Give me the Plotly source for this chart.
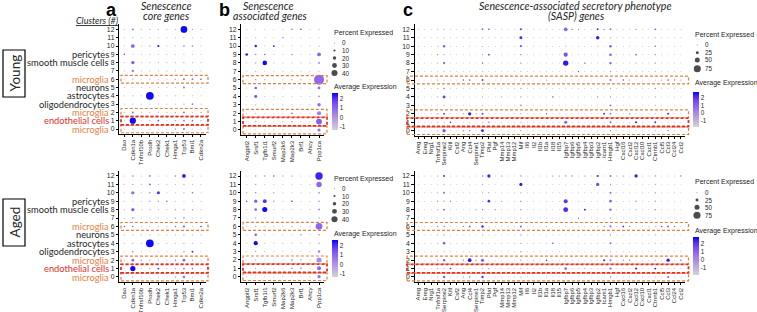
import plotly.graph_objects as go

W, H = 757, 312

# ---------------- data ----------------
GENES_A = ["Dao", "Cdkn1a", "Tnfrsf10b", "Prodh", "Chek2", "Chek1", "Hmga1", "Trp53", "Bmi1", "Cdkn2a"]
GENES_B = ["Angptl2", "Srsf1", "Tgfb1i1", "Smurf2", "Map2k6", "Map2k3", "Brf1", "Ahcy", "Ppp1ca"]
GENES_C = ["Areg", "Ereg", "Nrg1", "Tnfrsf1a", "Serpine2", "Kitl", "Csf2", "Ang", "Ccl4", "Serpine1",
           "Timp2", "Plat", "Pgf", "Mmp14", "Mmp13", "Mmp12", "Mif", "Il6", "Il2", "Il1b",
           "Il1a", "Il18", "Il15", "Igfbp7", "Igfbp6", "Igfbp5", "Igfbp4", "Igfbp3", "Igfbp2", "Icam1",
           "Hmgb1", "Hgf", "Cxcl16", "Cxcl2", "Cxcl12", "Cxcl10", "Cxcl1", "Ctnnb1", "Ccl5", "Ccl3",
           "Ccl24", "Ccl2"]

# rows listed from cluster 12 (top) down to cluster 0 (bottom)
CLUSTERS_TOP_DOWN = list(range(12, -1, -1))

CELL_TYPES = {9: "pericytes", 8: "smooth muscle cells", 6: "microglia", 5: "neurons",
              4: "astrocytes", 3: "oligodendrocytes", 2: "microglia", 1: "endothelial cells", 0: "microglia"}

# ---- panel a : senescence core genes ----
PCT_A_YOUNG = [
    [1, 6, 1, 2, 2, 1, 2, 38, 2, 1],
    [1, 2, 1, 1, 1, 1, 1, 2, 1, 1],
    [1, 18, 1, 2, 8, 1, 1, 4, 4, 1],
    [3, 1, 1, 1, 1, 1, 1, 1, 1, 1],
    [1, 16, 1, 1, 1, 1, 1, 2, 1, 1],
    [1, 8, 1, 1, 1, 1, 1, 1, 1, 1],
    [1, 2, 1, 2, 1, 1, 2, 6, 5, 4],
    [1, 1, 1, 1, 1, 1, 1, 5, 1, 1],
    [1, 2, 1, 45, 1, 1, 1, 1, 1, 1],
    [1, 1, 1, 1, 1, 1, 1, 2, 5, 1],
    [1, 6, 1, 1, 1, 1, 2, 6, 1, 2],
    [1, 35, 1, 2, 5, 1, 2, 5, 5, 2],
    [1, 2, 1, 1, 1, 1, 2, 7, 1, 1],
]
EXPR_A_YOUNG = [
    [-.5, .8, -.5, -.3, -.3, -.5, -.3, 2.5, .3, -.5],
    [-.5, -.3, -.5, -.5, -.5, -.5, -.5, -.3, -.5, -.5],
    [-.5, 1.2, -.5, 0, 2.3, -.5, -.3, .8, .8, -.5],
    [2.0, -.5, -.5, -.5, -.5, -.5, -.5, -.5, -.5, -.5],
    [-.5, 1.2, -.5, -.5, -.5, -.5, -.5, 0, -.5, -.5],
    [-.5, 1.0, -.5, -.5, -.5, -.5, -.5, -.5, -.5, -.5],
    [-.5, 0, -.5, 0, -.5, -.5, .3, 1.0, 1.0, 1.8],
    [-.5, -.5, -.5, -.5, -.5, -.5, -.5, 1.0, -.5, -.5],
    [-.5, 0, -.5, 2.5, -.5, -.5, -.5, -.5, -.5, -.5],
    [-.5, -.5, -.5, -.5, -.5, -.5, -.5, .3, 1.0, -.5],
    [-.5, 1.0, -.5, -.5, -.5, -.5, .3, 1.0, -.5, .3],
    [-.5, 2.5, -.5, 0, 1.5, -.5, .3, 1.0, 1.2, 0],
    [-.5, 0, -.5, -.5, -.5, -.5, .3, 1.0, -.5, -.5],
]
PCT_A_AGED = [
    [1, 4, 1, 5, 1, 1, 4, 18, 1, 1],
    [1, 2, 1, 6, 1, 1, 1, 2, 1, 1],
    [1, 15, 1, 3, 14, 1, 1, 2, 4, 1],
    [1, 1, 1, 2, 2, 3, 1, 1, 1, 1],
    [1, 15, 1, 2, 1, 1, 2, 2, 2, 1],
    [1, 4, 1, 1, 1, 1, 2, 4, 1, 1],
    [3, 4, 1, 1, 1, 1, 3, 8, 1, 4],
    [1, 1, 1, 1, 1, 1, 1, 2, 1, 1],
    [1, 2, 1, 45, 1, 1, 1, 2, 1, 1],
    [1, 4, 1, 1, 1, 1, 1, 3, 6, 1],
    [1, 12, 3, 2, 1, 1, 3, 12, 2, 1],
    [1, 28, 1, 2, 6, 1, 2, 5, 4, 1],
    [1, 2, 1, 1, 1, 1, 2, 9, 1, 1],
]
EXPR_A_AGED = [
    [-.5, .8, -.5, .8, -.5, -.5, .8, 2.3, -.5, -.5],
    [-.5, .3, -.5, 1.0, -.5, -.5, -.5, 0, -.5, -.5],
    [-.5, 1.0, -.5, .8, 2.0, -.5, -.5, .3, 1.0, -.5],
    [-.5, -.5, -.5, .5, .5, 1.5, -.5, -.5, -.5, -.5],
    [-.5, 1.2, -.5, 0, -.5, -.5, .5, .5, .5, -.5],
    [-.5, .8, -.5, -.5, -.5, -.5, .5, 1.0, -.5, -.5],
    [1.5, .8, -.5, -.5, -.5, -.5, 1.0, 1.2, -.5, 2.0],
    [-.5, -.5, -.5, -.5, -.5, -.5, -.5, 0, -.5, -.5],
    [-.5, 0, -.5, 2.5, -.5, -.5, -.5, 0, -.5, -.5],
    [-.5, .8, -.5, -.5, -.5, -.5, -.5, .5, 2.0, -.5],
    [-.5, 1.0, .8, .3, -.5, -.5, 1.0, 1.0, .3, -.5],
    [-.5, 2.5, -.5, .3, 2.0, -.5, .3, 1.0, 1.0, -.5],
    [-.5, 0, -.5, -.5, -.5, -.5, .3, 1.0, -.5, -.5],
]

# ---- panel b : senescence associated genes ----
PCT_B_YOUNG = [
    [1, 1, 1, 1, 1, 4, 4, 1, 2],
    [1, 2, 1, 1, 3, 1, 1, 1, 1],
    [1, 12, 1, 8, 1, 1, 1, 1, 2],
    [14, 4, 5, 1, 1, 3, 1, 1, 22],
    [1, 3, 28, 1, 1, 1, 1, 1, 8],
    [1, 2, 1, 1, 1, 1, 1, 1, 2],
    [1, 4, 2, 1, 1, 2, 2, 1, 70],
    [1, 12, 1, 1, 1, 1, 1, 1, 15],
    [1, 16, 1, 1, 1, 1, 1, 1, 6],
    [1, 2, 1, 1, 1, 1, 1, 1, 20],
    [1, 2, 1, 1, 1, 4, 1, 1, 25],
    [1, 4, 1, 1, 1, 3, 1, 1, 38],
    [1, 1, 1, 1, 1, 1, 1, 1, 18],
]
EXPR_B_YOUNG = [
    [-.5, -.5, -.5, -.5, -.5, 1.2, 2.3, -.5, 0],
    [-.5, .3, -.5, -.5, 1.5, -.5, -.5, -.5, -.5],
    [-.5, 2.3, -.5, 2.3, -.5, -.5, -.5, -.5, 0],
    [2.3, .8, 1.2, -.5, -.5, 1.0, -.5, -.5, 1.0],
    [-.5, .5, 2.5, -.5, -.5, -.5, -.5, -.5, .5],
    [-.5, .3, -.5, -.5, -.5, -.5, -.5, -.5, 0],
    [-.5, .8, .3, -.5, -.5, .3, .3, -.5, 1.0],
    [-.5, 1.3, -.5, -.5, -.5, -.5, -.5, -.5, .8],
    [-.5, 1.5, -.5, -.5, -.5, -.5, -.5, -.5, .5],
    [-.5, .3, -.5, -.5, -.5, -.5, -.5, -.5, .8],
    [-.5, .3, -.5, -.5, -.5, 2.0, -.5, -.5, .5],
    [-.5, .5, -.5, -.5, -.5, 1.0, -.5, -.5, 1.2],
    [-.5, -.5, -.5, -.5, -.5, -.5, -.5, -.5, .8],
]
PCT_B_AGED = [
    [1, 3, 3, 4, 2, 2, 1, 1, 50],
    [1, 2, 1, 1, 1, 1, 1, 1, 35],
    [2, 4, 1, 3, 1, 1, 1, 1, 6],
    [4, 18, 22, 3, 1, 5, 1, 1, 5],
    [1, 14, 32, 1, 1, 1, 1, 1, 8],
    [1, 3, 1, 1, 2, 1, 1, 1, 3],
    [1, 3, 1, 1, 1, 2, 1, 1, 45],
    [1, 12, 1, 1, 1, 1, 3, 1, 4],
    [1, 25, 1, 1, 1, 1, 1, 1, 4],
    [1, 3, 1, 1, 1, 1, 1, 1, 12],
    [1, 2, 1, 1, 1, 5, 3, 1, 32],
    [1, 3, 1, 1, 1, 4, 4, 1, 24],
    [1, 1, 1, 1, 1, 1, 1, 1, 18],
]
EXPR_B_AGED = [
    [-.5, .8, .8, 2.0, 1.0, 1.0, -.5, -.5, 2.2],
    [-.5, .5, -.5, -.5, -.5, -.5, -.5, -.5, 1.0],
    [.8, .8, -.5, 1.0, -.5, -.5, -.5, -.5, .5],
    [2.0, 1.3, 2.0, 1.0, -.5, 2.3, -.5, -.5, .5],
    [-.5, 1.0, 2.5, -.5, -.5, -.5, -.5, -.5, .3],
    [-.5, .5, -.5, -.5, .8, -.5, -.5, -.5, .3],
    [-.5, .5, -.5, -.5, -.5, .5, -.5, -.5, 1.0],
    [-.5, 1.2, -.5, -.5, -.5, -.5, 1.0, -.5, .5],
    [-.5, 2.5, -.5, -.5, -.5, -.5, -.5, -.5, .3],
    [-.5, .3, -.5, -.5, -.5, -.5, -.5, -.5, .5],
    [-.5, .3, -.5, -.5, -.5, 1.2, 1.0, -.5, .3],
    [-.5, .5, -.5, -.5, -.5, 1.2, 1.5, -.5, 1.0],
    [-.5, -.5, -.5, -.5, -.5, -.5, -.5, -.5, .8],
]

# ---- panel c : SASP genes ----
PCT_C_YOUNG = [
    [1, 1, 1, 2, 3, 1, 1, 1, 1, 1, 12, 8, 1, 1, 1, 1, 14, 1, 1, 1, 1, 1, 1, 35, 5, 3, 1, 1, 14, 5, 12, 1, 1, 1, 4, 1, 1, 10, 1, 1, 1, 1],
    [1, 1, 1, 1, 2, 1, 1, 1, 1, 1, 3, 1, 1, 1, 1, 1, 25, 1, 1, 1, 1, 1, 1, 1, 1, 1, 1, 1, 30, 1, 4, 1, 1, 1, 1, 1, 1, 2, 1, 1, 1, 1],
    [1, 1, 1, 2, 18, 1, 1, 1, 1, 1, 3, 1, 1, 1, 1, 1, 16, 1, 1, 1, 1, 1, 1, 2, 1, 1, 1, 1, 2, 1, 20, 1, 1, 1, 1, 1, 1, 8, 1, 1, 1, 1],
    [1, 1, 1, 3, 3, 1, 1, 1, 1, 1, 2, 10, 1, 1, 1, 1, 6, 1, 1, 1, 1, 1, 1, 40, 1, 1, 1, 1, 1, 1, 20, 1, 1, 1, 10, 1, 1, 4, 1, 1, 1, 1],
    [1, 1, 1, 2, 16, 1, 1, 1, 1, 1, 8, 1, 1, 1, 1, 1, 6, 1, 1, 1, 1, 1, 1, 55, 1, 1, 6, 1, 1, 1, 18, 1, 1, 1, 2, 1, 1, 5, 1, 1, 1, 1],
    [1, 1, 1, 1, 2, 1, 1, 1, 1, 1, 2, 1, 1, 1, 1, 1, 2, 1, 1, 1, 1, 1, 1, 1, 1, 4, 1, 1, 1, 1, 4, 1, 1, 1, 1, 1, 1, 2, 1, 1, 1, 1],
    [1, 1, 1, 3, 2, 1, 1, 5, 10, 1, 12, 1, 1, 1, 1, 1, 4, 1, 1, 1, 3, 1, 1, 1, 1, 1, 1, 1, 1, 1, 14, 1, 5, 3, 1, 1, 1, 2, 2, 10, 5, 4],
    [1, 1, 1, 2, 8, 1, 1, 1, 1, 1, 2, 1, 1, 1, 1, 1, 4, 1, 1, 1, 1, 1, 1, 1, 1, 1, 1, 1, 1, 1, 3, 1, 1, 1, 1, 1, 1, 4, 1, 1, 1, 1],
    [1, 1, 1, 2, 25, 1, 1, 1, 1, 1, 2, 1, 1, 2, 1, 1, 5, 1, 1, 1, 1, 6, 1, 1, 1, 1, 1, 1, 3, 1, 4, 1, 1, 1, 1, 1, 1, 2, 1, 1, 1, 1],
    [1, 1, 1, 1, 2, 1, 1, 1, 1, 1, 2, 1, 1, 1, 1, 1, 8, 1, 1, 1, 1, 1, 1, 1, 1, 1, 1, 1, 1, 1, 12, 1, 1, 1, 1, 1, 1, 2, 1, 1, 1, 1],
    [1, 1, 1, 4, 16, 1, 1, 3, 28, 4, 16, 1, 1, 1, 1, 1, 4, 1, 1, 1, 5, 1, 1, 1, 1, 1, 1, 1, 1, 12, 12, 1, 1, 4, 1, 1, 1, 2, 1, 14, 1, 1],
    [1, 1, 1, 2, 2, 8, 1, 1, 1, 1, 2, 6, 1, 1, 1, 1, 3, 1, 1, 1, 1, 1, 1, 28, 1, 1, 1, 1, 1, 1, 14, 1, 1, 1, 14, 1, 1, 12, 1, 1, 1, 1],
    [1, 1, 1, 3, 28, 1, 1, 4, 6, 1, 22, 1, 1, 1, 1, 1, 4, 1, 1, 1, 1, 1, 1, 1, 1, 1, 1, 1, 1, 1, 5, 1, 1, 1, 1, 1, 1, 2, 1, 5, 1, 1],
]
EXPR_C_YOUNG = [
    [-.5, -.5, -.5, 0, .5, -.5, -.5, -.5, -.5, -.5, 1.0, 2.0, -.5, -.5, -.5, -.5, 2.0, -.5, -.5, -.5, -.5, -.5, -.5, 1.0, 2.0, 1.5, -.5, -.5, 2.0, 1.5, 1.0, -.5, -.5, -.5, 1.0, -.5, -.5, 1.0, -.5, -.5, -.5, -.5],
    [-.5, -.5, -.5, -.5, 0, -.5, -.5, -.5, -.5, -.5, .3, -.5, -.5, -.5, -.5, -.5, 2.3, -.5, -.5, -.5, -.5, -.5, -.5, -.5, -.5, -.5, -.5, -.5, 2.5, -.5, .5, -.5, -.5, -.5, -.5, -.5, -.5, 0, -.5, -.5, -.5, -.5],
    [-.5, -.5, -.5, 0, 1.2, -.5, -.5, -.5, -.5, -.5, .3, -.5, -.5, -.5, -.5, -.5, 1.3, -.5, -.5, -.5, -.5, -.5, -.5, 0, -.5, -.5, -.5, -.5, 0, -.5, 1.2, -.5, -.5, -.5, -.5, -.5, -.5, 1.0, -.5, -.5, -.5, -.5],
    [-.5, -.5, -.5, 1.0, .3, -.5, -.5, -.5, -.5, -.5, 0, 2.0, -.5, -.5, -.5, -.5, .8, -.5, -.5, -.5, -.5, -.5, -.5, 1.5, -.5, -.5, -.5, -.5, -.5, -.5, 1.2, -.5, -.5, -.5, 1.0, -.5, -.5, .8, -.5, -.5, -.5, -.5],
    [-.5, -.5, -.5, 0, 1.3, -.5, -.5, -.5, -.5, -.5, 1.0, -.5, -.5, -.5, -.5, -.5, .8, -.5, -.5, -.5, -.5, -.5, -.5, 2.5, -.5, -.5, 2.3, -.5, -.5, -.5, 1.2, -.5, -.5, -.5, 0, -.5, -.5, .8, -.5, -.5, -.5, -.5],
    [-.5, -.5, -.5, -.5, 0, -.5, -.5, -.5, -.5, -.5, 0, -.5, -.5, -.5, -.5, -.5, 0, -.5, -.5, -.5, -.5, -.5, -.5, -.5, -.5, 2.0, -.5, -.5, -.5, -.5, .5, -.5, -.5, -.5, -.5, -.5, -.5, 0, -.5, -.5, -.5, -.5],
    [-.5, -.5, -.5, .8, 0, -.5, -.5, 2.0, 1.2, -.5, 2.0, -.5, -.5, -.5, -.5, -.5, .5, -.5, -.5, -.5, 1.0, -.5, -.5, -.5, -.5, -.5, -.5, -.5, -.5, -.5, .8, -.5, 2.2, 1.0, -.5, -.5, -.5, 0, 1.0, 1.2, 1.2, 1.2],
    [-.5, -.5, -.5, 0, .8, -.5, -.5, -.5, -.5, -.5, 0, -.5, -.5, -.5, -.5, -.5, .5, -.5, -.5, -.5, -.5, -.5, -.5, -.5, -.5, -.5, -.5, -.5, -.5, -.5, .3, -.5, -.5, -.5, -.5, -.5, -.5, .8, -.5, -.5, -.5, -.5],
    [-.5, -.5, -.5, 0, 1.8, -.5, -.5, -.5, -.5, -.5, 0, -.5, -.5, .5, -.5, -.5, .5, -.5, -.5, -.5, -.5, 2.3, -.5, -.5, -.5, -.5, -.5, -.5, 1.0, -.5, .5, -.5, -.5, -.5, -.5, -.5, -.5, 0, -.5, -.5, -.5, -.5],
    [-.5, -.5, -.5, -.5, 0, -.5, -.5, -.5, -.5, -.5, 0, -.5, -.5, -.5, -.5, -.5, .8, -.5, -.5, -.5, -.5, -.5, -.5, -.5, -.5, -.5, -.5, -.5, -.5, -.5, 1.2, -.5, -.5, -.5, -.5, -.5, -.5, 0, -.5, -.5, -.5, -.5],
    [-.5, -.5, -.5, 1.0, 1.2, -.5, -.5, 1.5, 2.5, 1.0, 1.2, -.5, -.5, -.5, -.5, -.5, .5, -.5, -.5, -.5, 2.3, -.5, -.5, -.5, -.5, -.5, -.5, -.5, -.5, 2.3, .5, -.5, -.5, 2.0, -.5, -.5, -.5, 0, -.5, 2.3, -.5, -.5],
    [-.5, -.5, -.5, 0, 0, 2.5, -.5, -.5, -.5, -.5, 0, 1.0, -.5, -.5, -.5, -.5, .5, -.5, -.5, -.5, -.5, -.5, -.5, 1.0, -.5, -.5, -.5, -.5, -.5, -.5, 1.0, -.5, -.5, -.5, 2.5, -.5, -.5, 2.3, -.5, -.5, -.5, -.5],
    [-.5, -.5, -.5, .5, 1.5, -.5, -.5, 1.2, 1.0, -.5, 2.5, -.5, -.5, -.5, -.5, -.5, .5, -.5, -.5, -.5, -.5, -.5, -.5, -.5, -.5, -.5, -.5, -.5, -.5, -.5, .8, -.5, -.5, -.5, -.5, -.5, -.5, 0, -.5, 1.0, -.5, -.5],
]
PCT_C_AGED = [
    [1, 1, 1, 3, 12, 1, 1, 1, 1, 1, 6, 30, 1, 3, 1, 1, 5, 1, 1, 1, 1, 3, 3, 4, 4, 1, 3, 1, 15, 1, 12, 2, 3, 1, 28, 1, 1, 4, 1, 1, 1, 4],
    [1, 1, 1, 1, 2, 1, 1, 1, 1, 1, 2, 1, 1, 1, 1, 1, 26, 1, 1, 1, 1, 1, 1, 1, 1, 1, 1, 1, 28, 1, 3, 1, 1, 1, 1, 1, 1, 2, 1, 1, 1, 1],
    [1, 1, 1, 2, 12, 1, 1, 1, 1, 1, 3, 5, 1, 1, 1, 1, 4, 1, 1, 1, 1, 1, 1, 2, 1, 1, 1, 1, 1, 1, 14, 1, 1, 1, 1, 1, 1, 5, 1, 1, 1, 1],
    [1, 1, 1, 4, 4, 4, 1, 1, 1, 1, 2, 22, 1, 3, 1, 1, 5, 1, 1, 1, 1, 1, 1, 38, 1, 1, 1, 1, 1, 1, 22, 1, 1, 1, 5, 1, 1, 4, 1, 1, 1, 1],
    [1, 1, 1, 2, 12, 1, 1, 1, 1, 3, 4, 1, 3, 1, 1, 1, 5, 1, 1, 1, 1, 1, 1, 48, 1, 1, 12, 1, 1, 1, 18, 1, 1, 1, 2, 1, 1, 6, 1, 1, 1, 1],
    [1, 1, 1, 1, 2, 1, 1, 1, 1, 1, 2, 1, 1, 1, 1, 1, 2, 1, 1, 1, 1, 1, 1, 1, 1, 4, 1, 1, 1, 1, 4, 1, 1, 1, 1, 1, 1, 2, 1, 1, 1, 1],
    [1, 1, 1, 4, 6, 1, 1, 4, 12, 1, 18, 1, 1, 1, 1, 1, 12, 1, 1, 1, 2, 1, 1, 1, 1, 1, 1, 1, 1, 4, 16, 1, 10, 4, 1, 1, 1, 2, 5, 12, 4, 1],
    [1, 1, 1, 2, 4, 1, 1, 1, 1, 1, 2, 1, 1, 1, 1, 1, 4, 1, 1, 1, 1, 1, 1, 1, 1, 1, 1, 1, 1, 1, 4, 1, 1, 1, 1, 1, 1, 2, 1, 1, 1, 1],
    [1, 1, 1, 2, 20, 1, 1, 1, 1, 1, 2, 1, 1, 1, 1, 1, 5, 1, 1, 1, 1, 6, 1, 1, 1, 1, 1, 1, 1, 1, 14, 1, 1, 1, 1, 1, 1, 2, 1, 1, 1, 1],
    [1, 1, 1, 1, 2, 1, 1, 1, 1, 1, 2, 1, 1, 1, 1, 1, 5, 1, 1, 1, 1, 1, 1, 1, 1, 1, 1, 1, 1, 1, 3, 1, 1, 1, 1, 1, 1, 2, 1, 1, 1, 1],
    [1, 1, 1, 4, 18, 1, 1, 4, 34, 4, 26, 1, 1, 1, 1, 1, 4, 1, 2, 1, 8, 1, 1, 1, 1, 1, 1, 1, 1, 14, 14, 1, 4, 4, 1, 1, 1, 2, 1, 30, 1, 5],
    [1, 1, 1, 3, 2, 7, 1, 1, 1, 1, 2, 5, 1, 1, 1, 1, 2, 1, 1, 1, 1, 1, 1, 22, 1, 1, 2, 1, 1, 1, 16, 1, 1, 1, 14, 1, 1, 12, 1, 1, 1, 1],
    [1, 1, 1, 3, 18, 1, 1, 4, 8, 1, 18, 1, 1, 1, 1, 1, 3, 1, 1, 1, 1, 1, 1, 1, 1, 1, 1, 1, 1, 1, 6, 1, 1, 1, 1, 1, 1, 2, 1, 12, 1, 1],
]
EXPR_C_AGED = [
    [-.5, -.5, -.5, .5, 2.2, -.5, -.5, -.5, -.5, -.5, 1.0, 2.3, -.5, 1.5, -.5, -.5, 1.0, -.5, -.5, -.5, -.5, 1.5, 1.5, 1.2, 1.5, -.5, 1.5, -.5, 2.3, -.5, 1.0, 0, 1.0, -.5, 2.5, -.5, -.5, 1.0, -.5, -.5, -.5, 2.0],
    [-.5, -.5, -.5, -.5, 0, -.5, -.5, -.5, -.5, -.5, 0, -.5, -.5, -.5, -.5, -.5, 2.5, -.5, -.5, -.5, -.5, -.5, -.5, -.5, -.5, -.5, -.5, -.5, 1.8, -.5, .3, -.5, -.5, -.5, -.5, -.5, -.5, 0, -.5, -.5, -.5, -.5],
    [-.5, -.5, -.5, 0, 1.0, -.5, -.5, -.5, -.5, -.5, .3, .8, -.5, -.5, -.5, -.5, .5, -.5, -.5, -.5, -.5, -.5, -.5, 0, -.5, -.5, -.5, -.5, -.5, -.5, 1.0, -.5, -.5, -.5, -.5, -.5, -.5, .8, -.5, -.5, -.5, -.5],
    [-.5, -.5, -.5, 1.0, .8, 1.0, -.5, -.5, -.5, -.5, 0, 2.2, -.5, 1.0, -.5, -.5, .8, -.5, -.5, -.5, -.5, -.5, -.5, 2.0, -.5, -.5, -.5, -.5, -.5, -.5, 1.0, -.5, -.5, -.5, .8, -.5, -.5, .8, -.5, -.5, -.5, -.5],
    [-.5, -.5, -.5, 0, 1.0, -.5, -.5, -.5, -.5, .5, 1.0, -.5, 1.0, -.5, -.5, -.5, .8, -.5, -.5, -.5, -.5, -.5, -.5, 2.2, -.5, -.5, 2.5, -.5, -.5, -.5, 1.0, -.5, -.5, -.5, 0, -.5, -.5, .8, -.5, -.5, -.5, -.5],
    [-.5, -.5, -.5, -.5, 0, -.5, -.5, -.5, -.5, -.5, 0, -.5, -.5, -.5, -.5, -.5, 0, -.5, -.5, -.5, -.5, -.5, -.5, -.5, -.5, 2.0, -.5, -.5, -.5, -.5, .5, -.5, -.5, -.5, -.5, -.5, -.5, 0, -.5, -.5, -.5, -.5],
    [-.5, -.5, -.5, 1.0, .8, -.5, -.5, 1.2, 1.2, -.5, 2.3, -.5, -.5, -.5, -.5, -.5, 1.2, -.5, -.5, -.5, .5, -.5, -.5, -.5, -.5, -.5, -.5, -.5, -.5, 1.0, .5, -.5, 2.2, 1.2, -.5, -.5, -.5, 0, 2.0, 1.3, .8, -.5],
    [-.5, -.5, -.5, 0, .5, -.5, -.5, -.5, -.5, -.5, 0, -.5, -.5, -.5, -.5, -.5, .5, -.5, -.5, -.5, -.5, -.5, -.5, -.5, -.5, -.5, -.5, -.5, -.5, -.5, .5, -.5, -.5, -.5, -.5, -.5, -.5, 0, -.5, -.5, -.5, -.5],
    [-.5, -.5, -.5, 0, 1.3, -.5, -.5, -.5, -.5, -.5, 0, -.5, -.5, -.5, -.5, -.5, .5, -.5, -.5, -.5, -.5, 2.3, -.5, -.5, -.5, -.5, -.5, -.5, -.5, -.5, 1.0, -.5, -.5, -.5, -.5, -.5, -.5, 0, -.5, -.5, -.5, -.5],
    [-.5, -.5, -.5, -.5, 0, -.5, -.5, -.5, -.5, -.5, 0, -.5, -.5, -.5, -.5, -.5, .5, -.5, -.5, -.5, -.5, -.5, -.5, -.5, -.5, -.5, -.5, -.5, -.5, -.5, .3, -.5, -.5, -.5, -.5, -.5, -.5, 0, -.5, -.5, -.5, -.5],
    [-.5, -.5, -.5, 1.0, 1.2, -.5, -.5, 1.2, 2.5, 1.0, 1.5, -.5, -.5, -.5, -.5, -.5, .5, -.5, .5, -.5, 2.3, -.5, -.5, -.5, -.5, -.5, -.5, -.5, -.5, 2.3, .5, -.5, 1.5, 1.5, -.5, -.5, -.5, 0, -.5, 2.5, -.5, 2.0],
    [-.5, -.5, -.5, .5, 0, 2.5, -.5, -.5, -.5, -.5, 0, 1.0, -.5, -.5, -.5, -.5, .3, -.5, -.5, -.5, -.5, -.5, -.5, 1.0, -.5, -.5, .5, -.5, -.5, -.5, 1.0, -.5, -.5, -.5, 2.5, -.5, -.5, 2.5, -.5, -.5, -.5, -.5],
    [-.5, -.5, -.5, .5, 1.2, -.5, -.5, 1.2, 1.0, -.5, 2.0, -.5, -.5, -.5, -.5, -.5, .3, -.5, -.5, -.5, -.5, -.5, -.5, -.5, -.5, -.5, -.5, -.5, -.5, -.5, .8, -.5, -.5, -.5, -.5, -.5, -.5, 0, -.5, 1.2, -.5, -.5],
]

PCT_LEGEND_B = [0, 10, 20, 30, 40]
PCT_LEGEND_C = [0, 25, 50, 75]
EXPR_TICKS = [-1, 0, 1, 2]

# ---------------- style / geometry (pixels) ----------------
COLORSCALE = [[0, "rgb(211,211,211)"], [0.25, "rgb(188,165,224)"], [0.5, "rgb(157,119,236)"],
              [0.75, "rgb(114,72,246)"], [0.88, "rgb(70,38,250)"], [1, "rgb(0,0,255)"]]
ORANGE = "#E5813F"
RED = "#E3302B"
TXT = "#262626"
LABEL_FONT = "Lato, Arial, sans-serif"
TICK_FONT = "Arial, Liberation Sans, sans-serif"

SIZE_SCALE = {"a": (1.0, 0.15), "b": (0.9, 0.13), "c": (0.9, 0.082)}
COLOR_RANGE = {"a": (-1.3, 2.6), "b": (-1.3, 2.6), "c": (-1.9, 2.85)}

GEOM = {
    "a_young": dict(col0=124.3, dx=8.52, row0=129.0, dy=8.3),
    "a_aged": dict(col0=124.3, dx=8.52, row0=277.0, dy=8.42),
    "b_young": dict(col0=246.7, dx=9.04, row0=130.0, dy=8.39),
    "b_aged": dict(col0=246.7, dx=9.04, row0=276.7, dy=8.39),
    "c_young": dict(col0=418.5, dx=6.4, row0=130.7, dy=8.45),
    "c_aged": dict(col0=418.5, dx=6.4, row0=277.0, dy=8.42),
}
BOX_X = {"a": (121, 208), "b": (243, 327), "c": (407, 688.5)}

PANELS = [
    ("a_young", GENES_A, PCT_A_YOUNG, EXPR_A_YOUNG, "coloraxis"),
    ("b_young", GENES_B, PCT_B_YOUNG, EXPR_B_YOUNG, "coloraxis2"),
    ("c_young", GENES_C, PCT_C_YOUNG, EXPR_C_YOUNG, "coloraxis3"),
    ("a_aged", GENES_A, PCT_A_AGED, EXPR_A_AGED, "coloraxis"),
    ("b_aged", GENES_B, PCT_B_AGED, EXPR_B_AGED, "coloraxis4"),
    ("c_aged", GENES_C, PCT_C_AGED, EXPR_C_AGED, "coloraxis5"),
]


def px(x):
    return x / W


def py(y):
    return 1 - y / H


def diam(kind, p):
    s0, k = SIZE_SCALE[kind]
    return s0 + k * p


def row_px(key, r):
    g = GEOM[key]
    return g["row0"] - g["dy"] * r


fig = go.Figure()
layout = dict(width=W, height=H, margin=dict(l=0, r=0, t=0, b=0), autosize=False,
              paper_bgcolor="white", plot_bgcolor="rgba(0,0,0,0)", showlegend=False,
              font=dict(family=TICK_FONT, color=TXT))
shapes, annotations = [], []

for k, (key, genes, pct_rows, expr_rows, cax) in enumerate(PANELS, start=1):
    kind = key[0]
    g = GEOM[key]
    n = len(genes)
    for row in pct_rows + expr_rows:
        assert len(row) == n, (key, len(row))
    xs, ys, ss, cs = [], [], [], []
    for ri, cl in enumerate(CLUSTERS_TOP_DOWN):
        for gi in range(n):
            xs.append(gi)
            ys.append(cl)
            ss.append(diam(kind, pct_rows[ri][gi]))
            cs.append(expr_rows[ri][gi])
    xa = "x" if k == 1 else f"x{k}"
    ya = "y" if k == 1 else f"y{k}"
    fig.add_trace(go.Scatter(x=xs, y=ys, mode="markers", xaxis=xa, yaxis=ya, cliponaxis=False,
                             marker=dict(size=ss, sizemode="diameter", color=cs, coloraxis=cax,
                                         line=dict(width=0), opacity=1),
                             hoverinfo="skip"))
    xl = g["col0"] - 0.6 * g["dx"]
    xr = g["col0"] + (n - 1 + 0.6) * g["dx"]
    yb = g["row0"] + 0.6 * g["dy"]
    yt = g["row0"] - 12.6 * g["dy"]
    axis_common = dict(showgrid=False, zeroline=False, showline=True, linecolor="black", linewidth=0.8,
                       ticks="outside", ticklen=2.5, tickwidth=0.7, tickcolor="black", mirror=False,
                       fixedrange=True)
    layout["xaxis" if k == 1 else f"xaxis{k}"] = dict(
        domain=[px(xl), px(xr)], range=[-0.6, n - 0.4], anchor=ya,
        tickvals=list(range(n)), ticktext=genes, tickangle=-90,
        tickfont=dict(size=6.0, family=TICK_FONT, color=TXT), **axis_common)
    layout["yaxis" if k == 1 else f"yaxis{k}"] = dict(
        domain=[py(yb), py(yt)], range=[-0.6, 12.6], anchor=xa,
        tickvals=list(range(13)), ticktext=[str(c) for c in range(13)],
        tickfont=dict(size=6.8, family=TICK_FONT, color=TXT), **axis_common)

    # highlight boxes around microglia / endothelial rows
    bx0, bx1 = BOX_X[kind]
    for r, col, lw, half in [(6, ORANGE, 1.2, 0.47), (2, ORANGE, 1.2, 0.47), (0, ORANGE, 1.2, 0.45),
                             (1, RED, 1.8, 0.5)]:
        shapes.append(dict(type="rect", xref="paper", yref="paper",
                           x0=px(bx0), x1=px(bx1),
                           y0=py(row_px(key, r) + half * g["dy"]), y1=py(row_px(key, r) - half * g["dy"]),
                           line=dict(color=col, width=lw, dash="3px,2px"), fillcolor="rgba(0,0,0,0)"))

    # cell-type labels (panel a only)
    if kind == "a":
        for cl, name in CELL_TYPES.items():
            color = ORANGE if name == "microglia" else (RED if name.startswith("endothelial") else TXT)
            annotations.append(dict(xref="paper", yref="paper", x=px(110.8), y=py(row_px(key, cl)),
                                    xanchor="right", yanchor="middle", text=name, showarrow=False,
                                    font=dict(family=LABEL_FONT, size=9.3, color=color)))

# overlay axis in pixel units for the size legends
layout["xaxis7"] = dict(domain=[0, 1], range=[0, W], visible=False, fixedrange=True, anchor="y7")
layout["yaxis7"] = dict(domain=[0, 1], range=[H, 0], visible=False, fixedrange=True, anchor="x7")

LEGENDS = [
    # kind, title y, dot x, label x, title x, dot ys, values, avg title y, cbar top, cbar len, cax
    ("b", 33, 334.5, 339.5, 331.5, [43, 50.5, 58, 65.5, 73], PCT_LEGEND_B, 87, 93, 37, "coloraxis2"),
    ("b", 179, 334.5, 339.5, 331.5, [188.3, 196, 203.7, 211.3, 219.3], PCT_LEGEND_B, 234.3, 240, 37, "coloraxis4"),
    ("c", 35, 697.3, 702.5, 692.5, [45, 52.7, 60, 68.7], PCT_LEGEND_C, 83, 92, 35, "coloraxis3"),
    ("c", 182, 697, 702.5, 692.5, [192.3, 200, 207.3, 215.3], PCT_LEGEND_C, 230.7, 237.3, 38, "coloraxis5"),
]
coloraxes = {"coloraxis": dict(colorscale=COLORSCALE, cmin=COLOR_RANGE["a"][0], cmax=COLOR_RANGE["a"][1],
                               showscale=False)}
for kind, ty, dxp, lxp, tx, dys, vals, aty, cbt, cbl, cax in LEGENDS:
    fig.add_trace(go.Scatter(x=[dxp] * len(vals), y=dys, mode="markers", xaxis="x7", yaxis="y7",
                             cliponaxis=False, hoverinfo="skip",
                             marker=dict(size=[diam(kind, v) for v in vals], sizemode="diameter",
                                         color="black", line=dict(width=0))))
    annotations.append(dict(xref="paper", yref="paper", x=px(tx), y=py(ty), xanchor="left", yanchor="middle",
                            text="Percent Expressed", showarrow=False,
                            font=dict(family=TICK_FONT, size=7.0, color=TXT)))
    annotations.append(dict(xref="paper", yref="paper", x=px(tx), y=py(aty), xanchor="left", yanchor="middle",
                            text="Average Expression", showarrow=False,
                            font=dict(family=TICK_FONT, size=7.0, color=TXT)))
    for v, yv in zip(vals, dys):
        annotations.append(dict(xref="paper", yref="paper", x=px(lxp), y=py(yv), xanchor="left",
                                yanchor="middle", text=str(v), showarrow=False,
                                font=dict(family=TICK_FONT, size=6.3, color=TXT)))
    cmin, cmax = COLOR_RANGE[kind]
    coloraxes[cax] = dict(colorscale=COLORSCALE, cmin=cmin, cmax=cmax, showscale=True,
                          colorbar=dict(x=px(tx), xanchor="left", y=py(cbt), yanchor="top",
                                        len=cbl, lenmode="pixels", thickness=6, thicknessmode="pixels",
                                        xpad=0, ypad=0, outlinewidth=0, tickvals=EXPR_TICKS,
                                        ticktext=[str(t) for t in EXPR_TICKS], ticks="",
                                        tickfont=dict(size=6.3, family=TICK_FONT, color=TXT)))
layout.update(coloraxes)

# panel letters and titles
for letter, x in [("a", 111.5), ("b", 224.5), ("c", 407.5)]:
    annotations.append(dict(xref="paper", yref="paper", x=px(x), y=py(10.5), text=f"<b>{letter}</b>",
                            showarrow=False, xanchor="center", yanchor="middle",
                            font=dict(family=TICK_FONT, size=18, color="black")))
TITLE_LINES = [("Senescence", 166, 5.8), ("core genes", 166, 16),
               ("Senescence", 268, 5.8), ("associated genes", 270, 16),
               ("Senescence-associated secretory phenotype", 575, 5.8), ("(SASP) genes", 576, 16)]
for t, x, y in TITLE_LINES:
    annotations.append(dict(xref="paper", yref="paper", x=px(x), y=py(y), text=f"<i>{t}</i>",
                            showarrow=False, xanchor="center", yanchor="middle",
                            font=dict(family=LABEL_FONT, size=10.6, color=TXT)))
annotations.append(dict(xref="paper", yref="paper", x=px(97), y=py(20.5), text="<i><u>Clusters (#)</u></i>",
                        showarrow=False, xanchor="center", yanchor="middle",
                        font=dict(family=LABEL_FONT, size=9, color=TXT)))

# Young / Aged boxes
for label, y0, y1 in [("Young", 50, 97), ("Aged", 199, 246)]:
    shapes.append(dict(type="rect", xref="paper", yref="paper", x0=px(3), x1=px(25), y0=py(y1), y1=py(y0),
                       line=dict(color="black", width=1.2), fillcolor="white"))
    annotations.append(dict(xref="paper", yref="paper", x=px(14), y=py((y0 + y1) / 2), text=label,
                            textangle=-90, showarrow=False, xanchor="center", yanchor="middle",
                            font=dict(family=LABEL_FONT, size=13.5, color=TXT)))

layout["shapes"] = shapes
layout["annotations"] = annotations
fig.update_layout(**layout)
# remove the browser's default 8px body margin so the figure sits at the page origin
fig.write_html("out.html", config={"displayModeBar": False},
               post_script="document.body.style.margin='0';")
